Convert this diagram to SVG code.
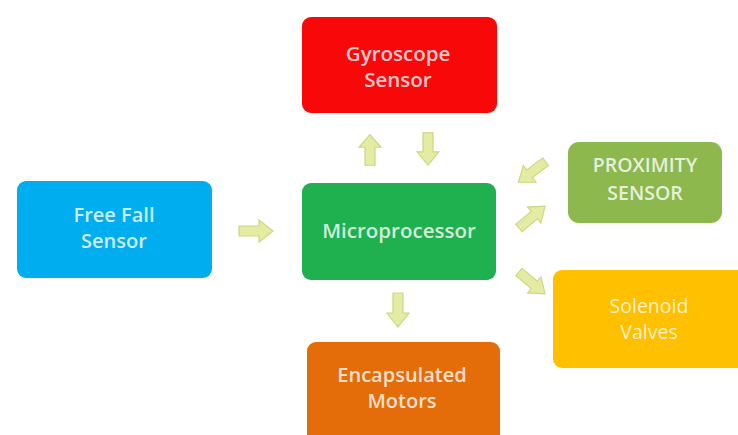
<svg xmlns="http://www.w3.org/2000/svg" width="738" height="435" viewBox="0 0 738 435">
<style>
.box{stroke:none}
.t{font-family:"Open Sans","Liberation Sans",sans-serif;font-size:20px;font-weight:600;text-anchor:middle;fill:#ffffff;fill-opacity:0.8}
.arr{fill:#e4eca4;stroke:#cdd680;stroke-width:1.2}
</style>
<defs>
<path id="ba" d="M-17,-5 L3,-5 L3,-11 L17,0 L3,11 L3,5 L-17,5 Z"/>
</defs>
<rect width="738" height="435" fill="#ffffff"/>
<g id="gyro"><rect class="box" x="302" y="17" width="195" height="96" rx="9" fill="#f80808"/><text class="t" x="398" y="61" style="font-size:20.5px">Gyroscope</text><text class="t" x="398" y="87" style="font-size:20.5px">Sensor</text></g>
<g id="micro"><rect class="box" x="302" y="183" width="194" height="97" rx="9" fill="#1fb04f"/><text class="t" x="399" y="238" style="font-size:20.5px">Microprocessor</text></g>
<g id="freefall"><rect class="box" x="17" y="181" width="195" height="97" rx="9" fill="#00aeef"/><text class="t" x="114" y="222">Free Fall</text><text class="t" x="114" y="248">Sensor</text></g>
<g id="proximity"><rect class="box" x="568" y="142" width="154" height="81" rx="11" fill="#8db84e"/><text class="t" x="645" y="172" style="font-size:19.5px">PROXIMITY</text><text class="t" x="645" y="200" style="font-size:19.5px">SENSOR</text></g>
<g id="solenoid"><rect class="box" x="553" y="270" width="200" height="98" rx="9" fill="#ffc000"/><text class="t" x="649" y="313" style="font-weight:500;font-size:19.5px">Solenoid</text><text class="t" x="649" y="339" style="font-weight:500;font-size:19.5px">Valves</text></g>
<g id="motors"><rect class="box" x="307" y="342" width="193" height="110" rx="9" fill="#e46d0a"/><text class="t" x="402" y="382">Encapsulated</text><text class="t" x="402" y="408">Motors</text></g>
<g id="connectors">
<use href="#ba" class="arr" transform="translate(370,150) rotate(-90) scale(0.9,1)"/>
<use href="#ba" class="arr" transform="translate(428,149) rotate(90) scale(0.95,1)"/>
<use href="#ba" class="arr" transform="translate(256,231)"/>
<use href="#ba" class="arr" transform="translate(398,310) rotate(90)"/>
<use href="#ba" class="arr" transform="translate(532,172) rotate(143) scale(1,0.95)"/>
<use href="#ba" class="arr" transform="translate(532,217) rotate(-40) scale(1,0.95)"/>
<use href="#ba" class="arr" transform="translate(532,283) rotate(40) scale(1,0.95)"/>
</g>
</svg>
